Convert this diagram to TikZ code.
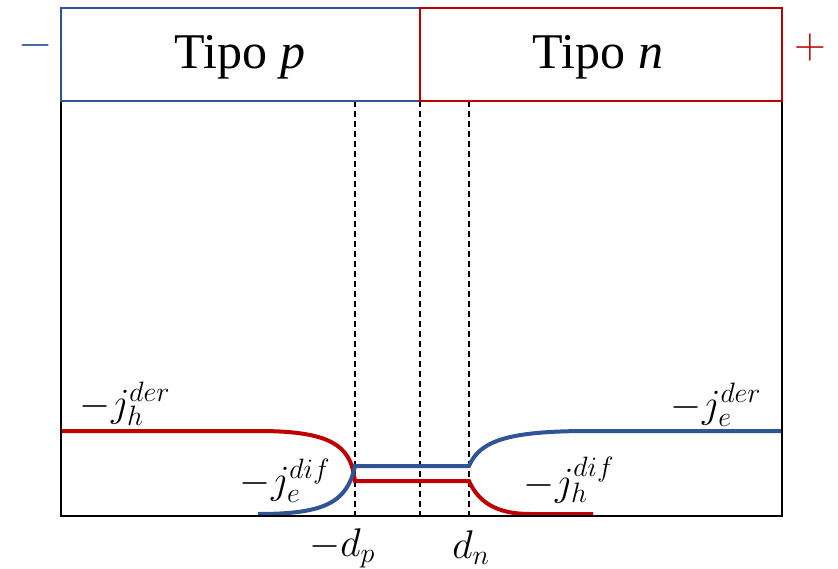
\RequirePackage{fix-cm}
\documentclass[tikz,border=0pt]{standalone}
\usepackage{fontspec}
\setmainfont{Liberation Serif}
\definecolor{myred}{HTML}{C00000}
\definecolor{myblue}{HTML}{2F5597}
\begin{document}
\begin{tikzpicture}[x=1pt,y=-1pt,
  curve/.style={line width=4pt},
  dashline/.style={black,dashed,line width=1.2pt,dash pattern=on 6pt off 4pt},
  lab/.style={inner sep=0pt,font=\fontsize{40}{44}\selectfont},
  title/.style={inner sep=0pt,font=\fontsize{50}{54}\selectfont}]
\useasboundingbox (0,0) rectangle (838,569);
% dashed lines
\draw[dashline] (355,101) -- (355,516);
\draw[dashline] (420,101) -- (420,516);
\draw[dashline] (469,101) -- (469,516);
% curves
\draw[curve,myred] (61,431) -- (258,431) .. controls (322,431) and (346,442) .. (353,470) -- (355,481) -- (469,481) .. controls (478,501) and (495,514) .. (530,514) -- (593,514);
\draw[curve,myblue] (258,514) .. controls (324,514) and (347,503) .. (355,466) -- (469,466) .. controls (480,440) and (510,431) .. (590,431) -- (782,431);
% main box
\draw[black,line width=2pt] (61,101) rectangle (782,516);
% top boxes
\draw[myblue,line width=1.5pt] (420,101) -- (61,101) -- (61,8) -- (420,8);
\draw[myred,line width=1.5pt] (420,8) rectangle (782,101);
\node[title] (tp) at (240,57) {Tipo \textit{p}};
\node[title] (tn) at (598,57) {Tipo \textit{n}};
\node[inner sep=0pt,text=myblue,font=\fontsize{44}{48}\selectfont] (minus) at (36,46) {$-$};
\node[inner sep=0pt,text=myred,font=\fontsize{44}{48}\selectfont] (plus) at (810,48) {$+$};
% labels
\node[lab] (jhder) at (125,404) {$-j_h^{der}$};
\node[lab] (jedif) at (285,481) {$-j_e^{dif}$};
\node[lab] (jhdif) at (569,480) {$-j_h^{dif}$};
\node[lab] (jeder) at (716,405) {$-j_e^{der}$};
\node[lab] (dp) at (342,548) {$-d_p$};
\node[lab] (dn) at (471,548) {$d_n$};
\end{tikzpicture}
\end{document}
